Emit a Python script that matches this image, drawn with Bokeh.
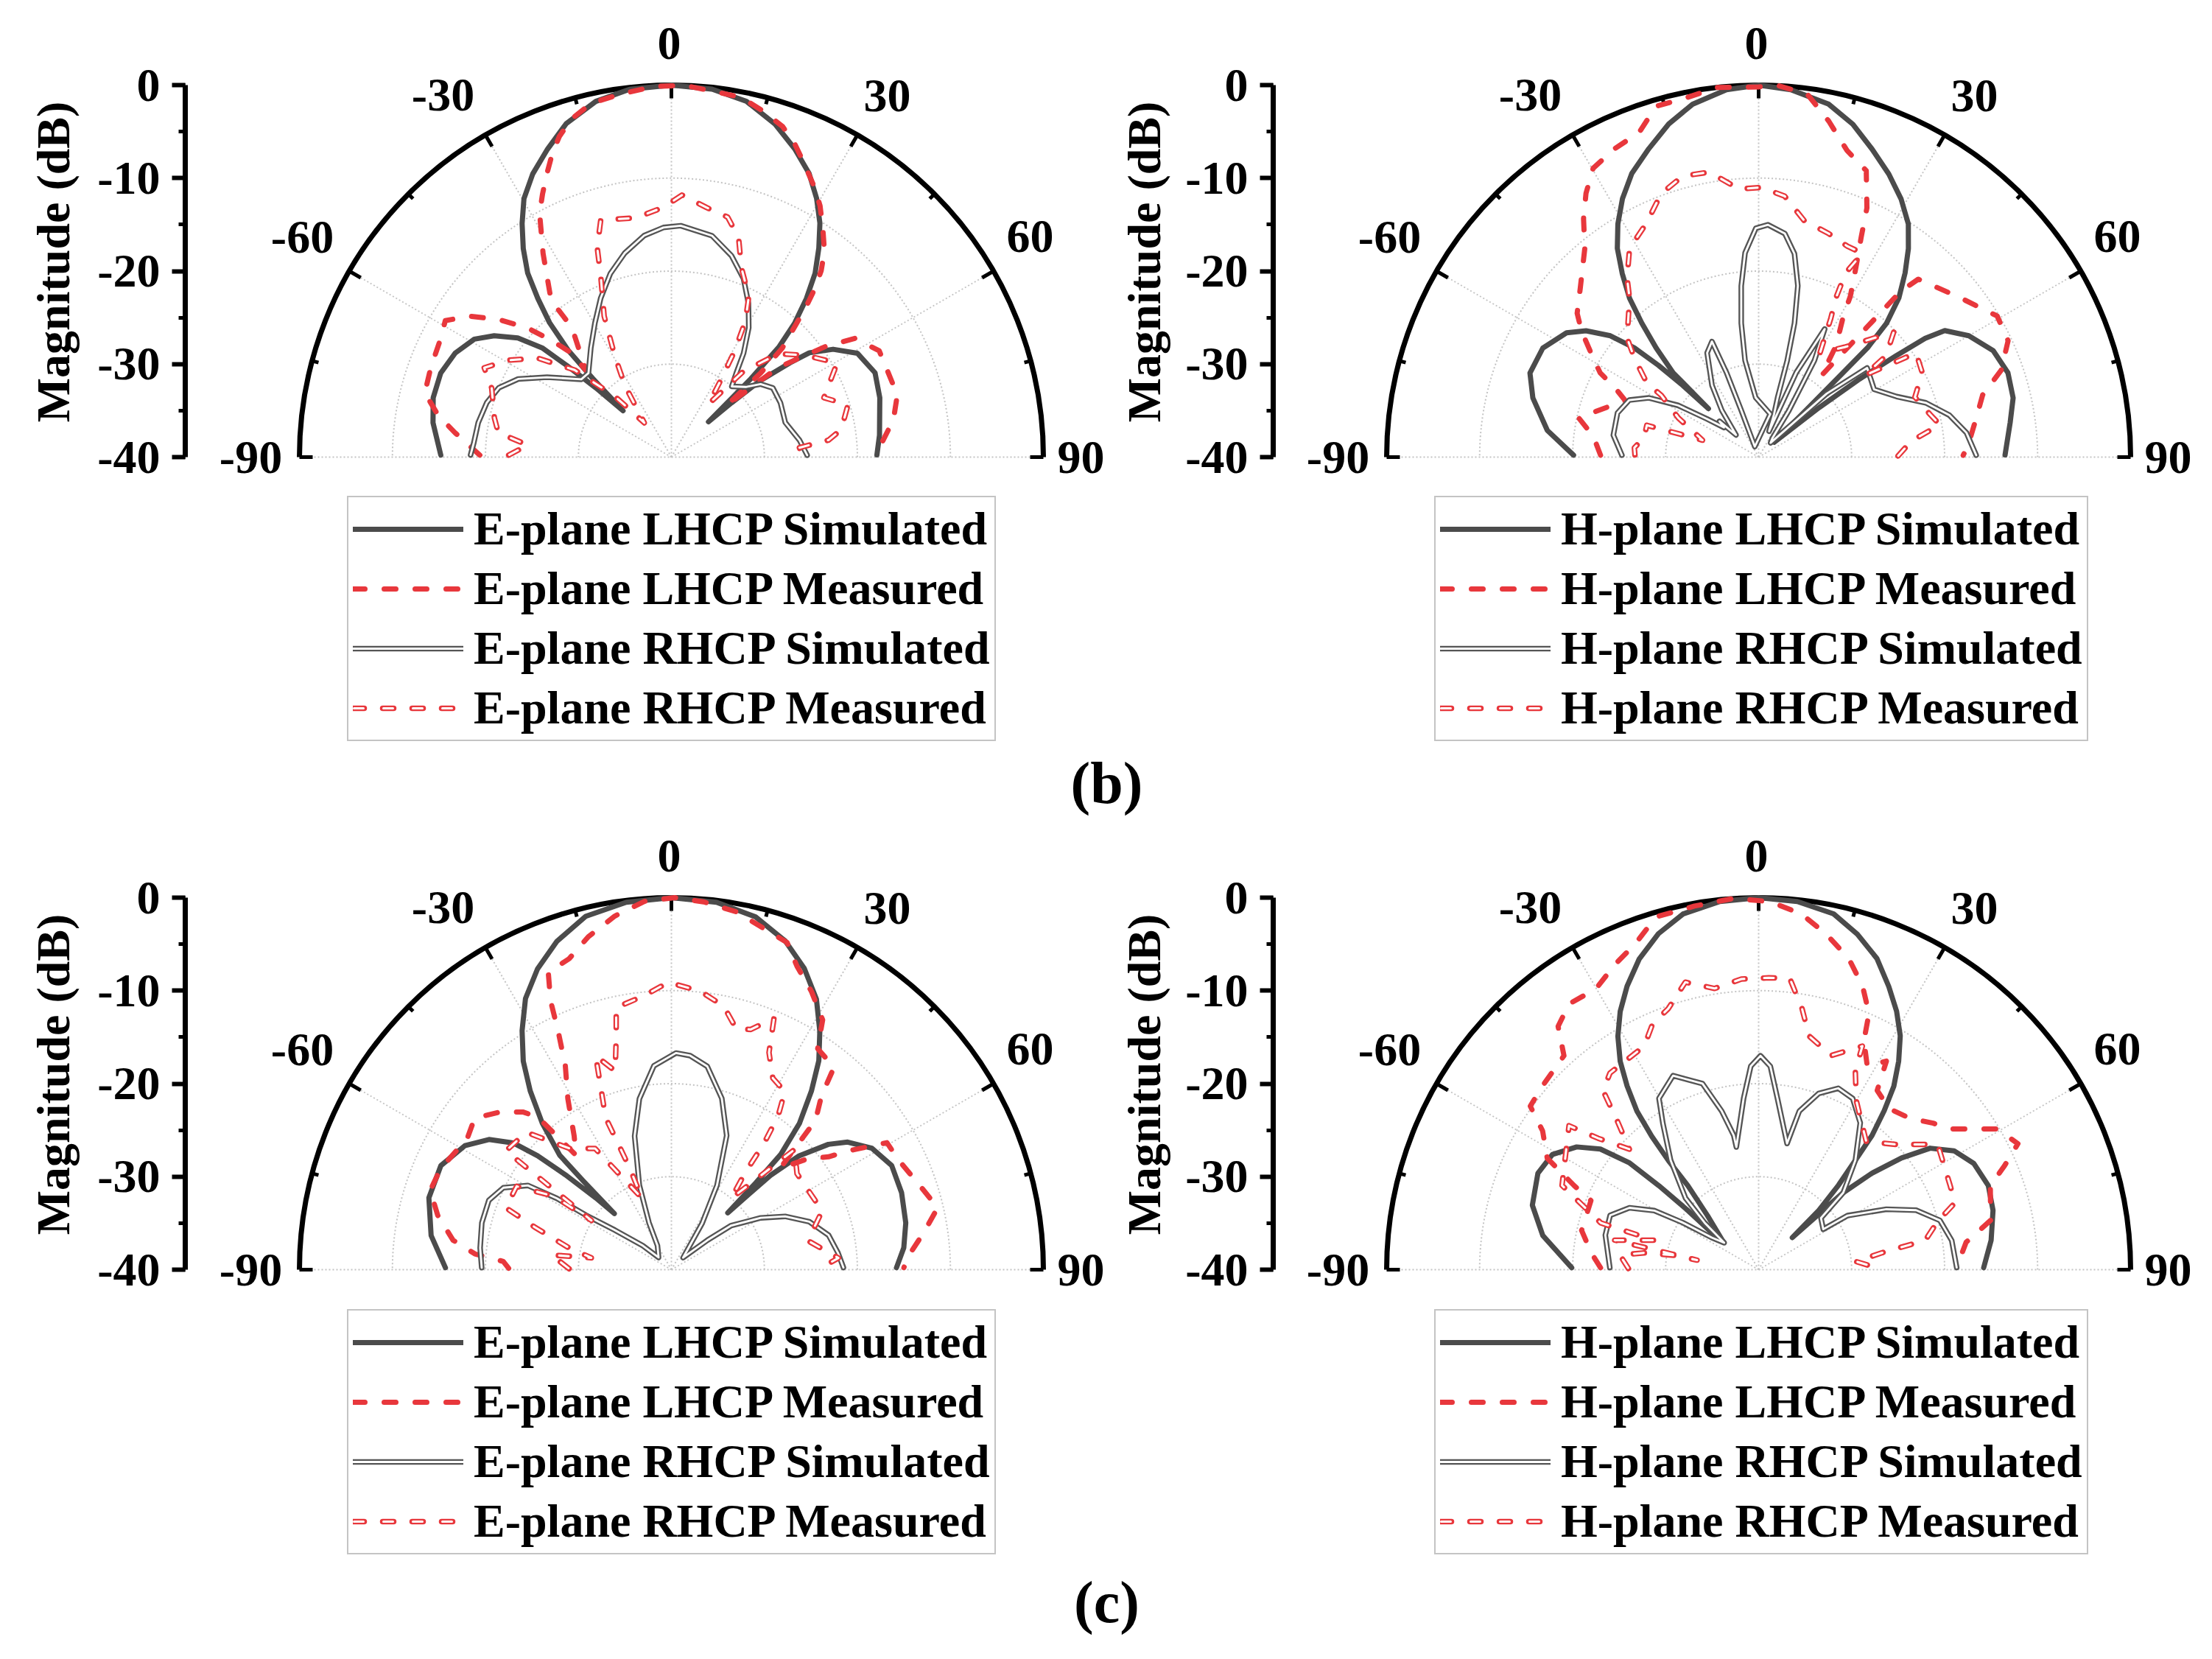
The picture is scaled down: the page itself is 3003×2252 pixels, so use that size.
import numpy as np
from bokeh.plotting import figure
from bokeh.models import Range1d, SingleIntervalTicker, Legend, LegendItem, PrintfTickFormatter
from bokeh.layouts import column, row
from bokeh.embed import file_html
from bokeh.resources import INLINE
from bokeh.core.properties import value

FONT = "Liberation Serif"
GRAY = "#4b4b4b"
GRAY2 = "#555555"
RED = "#e8373c"
GRID = "#c4c4c4"

# ---------------- data: (angle in degrees, magnitude in dB) ----------------
# (b) E-plane
bE_lhcp_sim = [(-89.5, -15.2), (-81.8, -14.1), (-76.0, -13.6), (-70.0, -13.6), (-64.3, -14.2), (-59.1, -15.3),
               (-55.6, -16.9), (-52.2, -19.1), (-49.8, -21.8), (-48.8, -25.0), (-47.5, -29.0), (-46.2, -32.8),
               (-45.0, -28.0), (-44.0, -24.0), (-42.2, -20.5), (-40.1, -17.7), (-38.0, -14.9), (-35.4, -12.5),
               (-32.6, -10.2), (-29.7, -8.0), (-26.1, -6.1), (-21.9, -4.3), (-17.5, -2.4), (-12.0, -0.9),
               (-6.5, -0.2), (0.0, 0.0), (6.3, -0.2), (11.9, -0.9), (17.3, -2.5), (21.8, -4.3), (25.9, -6.1),
               (29.3, -8.1), (32.4, -10.2), (35.2, -12.5), (38.0, -14.9), (40.4, -17.6), (42.6, -20.4),
               (44.3, -23.4), (45.4, -28.0), (46.4, -34.5), (47.9, -31.3), (49.3, -27.4), (51.5, -23.7),
               (52.9, -21.4), (56.3, -19.1), (60.8, -17.1), (67.5, -16.3), (74.1, -16.7), (84.0, -17.5),
               (89.4, -17.9)]
bE_lhcp_meas = [(-89.4, -19.4), (-83.6, -16.6), (-79.8, -14.5), (-75.4, -12.6), (-69.7, -12.4), (-62.7, -12.1),
                (-58.9, -11.6), (-55.1, -13.5), (-51.4, -16.3), (-48.1, -19.2), (-45.7, -22.1), (-43.8, -24.5),
                (-44.6, -26.9), (-38.2, -23.0), (-37.5, -21.5), (-37.5, -19.8), (-36.6, -18.1), (-34.2, -16.1),
                (-32.2, -14.1), (-30.2, -12.2), (-28.4, -10.2), (-26.1, -8.5), (-23.7, -6.7), (-21.5, -5.0),
                (-19.3, -3.5), (-16.5, -2.1), (-12.8, -1.0), (-8.1, -0.6), (-2.7, -0.1), (2.0, 0.0), (6.4, -0.4),
                (11.0, -0.6), (14.8, -1.5), (18.6, -2.5), (21.5, -3.8), (24.4, -5.4), (27.8, -7.1), (30.6, -8.6),
                (33.5, -10.5), (36.6, -12.4), (38.8, -14.3), (40.4, -16.2), (41.8, -18.2), (43.1, -20.3),
                (45.5, -23.3), (46.7, -26.8), (46.9, -31.9), (50.0, -25.0), (54.4, -19.5), (57.1, -16.5),
                (62.9, -14.9), (74.6, -14.8), (80.5, -15.8), (89.2, -18.0)]
bE_rhcp_sim = [(-89.4, -18.4), (-85.8, -18.7), (-79.9, -18.9), (-73.6, -19.3), (-68.1, -20.0), (-63.0, -21.5),
               (-57.3, -24.1), (-49.2, -27.2), (-44.6, -27.3), (-36.4, -25.4), (-29.7, -23.4), (-24.0, -21.3),
               (-18.4, -19.2), (-12.9, -17.5), (-7.0, -16.0), (-2.0, -15.3), (2.3, -15.1), (10.4, -15.8),
               (16.6, -17.4), (22.0, -19.3), (26.6, -21.5), (30.9, -23.8), (34.8, -26.4), (37.7, -28.6),
               (40.5, -30.0), (46.7, -29.0), (50.7, -27.6), (55.7, -26.8), (63.5, -26.9), (73.1, -27.2),
               (82.5, -26.1), (89.2, -25.4)]
bE_rhcp_meas = [(-89.3, -22.5), (-85.2, -24.5), (-82.0, -21.2), (-77.5, -20.5), (-69.0, -19.3), (-64.5, -17.7),
                (-59.3, -19.6), (-53.5, -22.1), (-48.0, -26.0), (-43.0, -31.0), (-38.3, -35.3), (-33.0, -30.8),
                (-29.2, -27.5), (-25.5, -23.2), (-21.4, -19.2), (-19.5, -16.1), (-16.6, -13.4), (-8.4, -14.0),
                (-1.7, -13.1), (2.3, -11.8), (8.0, -12.9), (13.2, -13.5), (17.0, -15.3), (20.3, -18.3),
                (25.7, -20.8), (28.6, -23.4), (30.8, -26.7), (32.7, -30.2), (35.0, -33.0), (40.0, -28.0),
                (46.0, -24.0), (52.8, -21.9), (60.4, -19.5), (68.7, -22.4), (73.5, -20.2), (80.8, -21.5),
                (83.8, -23.0), (85.8, -26.2), (89.5, -26.0)]

# (b) H-plane
bH_lhcp_sim = [(-89.4, -20.1), (-82.8, -17.1), (-75.3, -14.9), (-69.8, -13.8), (-63.2, -14.0), (-57.1, -15.4),
               (-53.8, -17.0), (-50.7, -19.4), (-48.7, -22.2), (-47.5, -25.4), (-46.6, -28.8), (-46.0, -32.5),
               (-45.4, -27.1), (-43.2, -23.9), (-41.1, -20.9), (-39.1, -18.0), (-36.6, -15.4), (-34.1, -12.9),
               (-31.1, -10.7), (-27.8, -8.6), (-24.1, -6.6), (-19.6, -4.8), (-15.1, -2.9), (-10.6, -1.4),
               (-5.0, -0.35), (0.0, 0.0), (5.0, -0.35), (11.2, -1.3), (15.8, -2.8), (20.2, -4.7), (24.7, -6.5),
               (28.9, -8.3), (32.7, -10.2), (35.7, -12.4), (38.5, -14.7), (41.4, -17.2), (43.7, -20.1),
               (44.9, -23.4), (45.0, -27.2), (45.2, -32.2), (46.1, -37.7), (50.7, -31.6), (52.2, -26.5),
               (53.6, -21.6), (54.5, -18.0), (55.8, -15.8), (60.0, -13.9), (65.6, -12.3), (71.3, -11.7),
               (76.9, -11.9), (82.2, -12.7), (89.5, -13.5)]
bH_lhcp_meas = [(-89.3, -23.0), (-82.9, -22.1), (-77.7, -20.2), (-67.0, -24.4), (-64.3, -22.9), (-62.0, -20.7),
                (-58.2, -18.8), (-54.5, -16.6), (-51.6, -15.1), (-46.6, -13.6), (-39.8, -10.8), (-36.3, -8.2),
                (-33.2, -6.1), (-29.8, -4.2), (-25.0, -3.4), (-20.2, -2.8), (-16.3, -0.7), (-11.5, -0.6),
                (-6.4, 0.0), (0.0, -0.2), (3.0, 0.0), (7.6, -0.6), (11.8, -3.1), (16.1, -5.7), (20.6, -7.1),
                (23.5, -10.8), (25.0, -13.9), (27.1, -17.0), (29.7, -20.1), (31.0, -22.3), (34.8, -25.4),
                (37.6, -28.9), (40.6, -16.5), (41.9, -14.3), (51.1, -12.5), (59.4, -10.2), (65.0, -10.4),
                (70.3, -12.3), (74.5, -15.0), (80.2, -16.3), (86.5, -17.4), (89.5, -18.0)]
bH_rhcp_sim = [(-89.2, -25.3), (-81.4, -24.2), (-72.6, -24.1), (-66.2, -24.8), (-61.6, -26.6), (-57.3, -29.7),
               (-53.5, -33.1), (-49.5, -35.1), (-47.5, -34.3), (-45.6, -36.6), (-38.2, -33.6), (-33.0, -30.8),
               (-26.3, -27.5), (-22.0, -26.6), (-20.8, -30.3), (-20.4, -34.6), (-20.0, -38.8), (15.1, -35.2),
               (-2.8, -33.6), (-8.0, -29.5), (-7.4, -25.5), (-5.8, -21.5), (-3.8, -18.0), (-0.7, -15.4),
               (2.3, -15.0), (6.7, -15.8), (10.0, -17.8), (12.9, -21.1), (15.0, -25.1), (16.5, -29.2),
               (17.7, -33.3), (19.8, -35.1), (22.0, -37.0), (24.0, -30.0), (27.3, -24.5), (30.0, -28.0),
               (33.0, -34.0), (36.0, -37.5), (40.0, -38.0), (47.0, -30.0), (50.6, -24.9), (59.6, -25.6),
               (66.3, -23.8), (72.0, -21.1), (77.6, -19.0), (83.3, -17.5), (89.5, -16.6)]
bH_rhcp_meas = [(-89.0, -26.7), (-85.7, -26.6), (-80.4, -27.5), (-74.1, -27.5), (-73.2, -33.7), (-64.0, -30.4),
                (-57.6, -27.6), (-56.5, -25.6), (-51.4, -22.9), (-47.8, -20.9), (-39.1, -18.0), (-36.3, -16.1),
                (-31.7, -13.6), (-25.6, -12.1), (-22.9, -11.0), (-20.3, -9.8), (-15.1, -8.7), (-9.8, -8.9),
                (-4.2, -11.1), (0.6, -11.0), (5.7, -11.8), (10.9, -14.1), (17.3, -14.8), (22.9, -15.4),
                (27.0, -15.4), (25.3, -18.1), (25.9, -21.0), (27.5, -23.2), (30.5, -27.0), (38.0, -25.0),
                (47.2, -20.2), (51.5, -22.5), (52.4, -25.6), (56.5, -19.7), (62.7, -20.2), (69.0, -22.0),
                (76.0, -21.0), (79.9, -20.2), (84.0, -23.5), (89.5, -25.0)]

# (c) E-plane
cE_lhcp_sim = [(-89.5, -15.7), (-81.9, -13.9), (-73.5, -12.8), (-65.7, -12.8), (-59.0, -14.1), (-54.5, -15.9),
               (-51.3, -18.2), (-49.6, -21.1), (-48.1, -24.9), (-46.5, -28.8), (-45.5, -31.4), (-44.8, -26.5),
               (-44.3, -22.8), (-41.4, -19.0), (-38.3, -15.5), (-35.4, -12.5), (-32.0, -9.7), (-28.3, -6.9),
               (-24.0, -4.6), (-19.2, -2.6), (-13.6, -0.9), (-7.0, -0.2), (0.0, 0.0), (7.0, -0.2), (13.4, -1.0),
               (19.1, -2.6), (23.8, -4.6), (28.2, -7.0), (31.9, -9.8), (35.2, -12.5), (38.1, -15.6),
               (41.2, -19.1), (43.5, -22.9), (44.2, -27.0), (44.8, -31.4), (45.7, -28.5), (46.4, -25.3),
               (48.3, -21.6), (51.4, -18.4), (54.1, -16.6), (58.8, -14.8), (64.7, -13.8), (71.5, -13.9),
               (78.7, -14.3), (84.6, -14.9), (89.5, -15.8)]
cE_lhcp_meas = [(-89.5, -22.5), (-87.2, -21.9), (-85.4, -18.8), (-82.3, -16.3), (-76.9, -14.2), (-71.8, -12.7),
                (-66.5, -12.9), (-57.2, -13.9), (-52.4, -13.3), (-47.6, -14.9), (-43.3, -16.7), (-41.2, -18.2),
                (-39.8, -24.0), (-36.0, -22.2), (-31.2, -18.5), (-27.5, -15.3), (-25.4, -11.6), (-24.2, -8.3),
                (-22.5, -5.4), (-18.2, -4.8), (-14.0, -3.1), (-9.1, -1.5), (-4.2, -0.3), (0.5, 0.0), (5.0, -0.3),
                (10.3, -0.9), (19.5, -2.7), (22.5, -4.7), (26.7, -6.5), (31.2, -8.6), (33.5, -11.5),
                (38.8, -12.1), (40.8, -15.3), (44.0, -17.7), (47.0, -24.0), (51.0, -21.0), (54.3, -19.2),
                (56.6, -16.6), (59.5, -13.1), (64.0, -12.9), (71.3, -11.8), (76.9, -10.6), (81.7, -12.6),
                (86.5, -14.4), (89.5, -15.0)]
cE_rhcp_sim = [(-89.4, -19.6), (-83.5, -19.3), (-76.1, -19.0), (-69.2, -19.0), (-64.0, -19.9), (-59.6, -22.1),
               (-58.1, -25.5), (-57.5, -29.1), (-55.0, -32.6), (-50.0, -36.0), (-46.5, -38.1), (-30.0, -37.0),
               (-25.5, -34.4), (-20.8, -30.3), (-15.4, -25.1), (-10.6, -21.3), (-4.9, -18.0), (1.2, -16.7),
               (5.0, -16.9), (10.0, -17.8), (16.4, -20.8), (22.4, -24.4), (28.4, -29.7), (33.5, -34.0),
               (44.3, -38.2), (50.7, -35.0), (53.6, -32.0), (59.9, -28.9), (64.9, -26.5), (70.8, -24.3),
               (77.6, -22.7), (84.2, -22.0), (89.3, -21.5)]
cE_rhcp_meas = [(-89.5, -29.0), (-83.0, -27.0), (-81.6, -31.3), (-77.9, -28.7), (-72.7, -24.6), (-69.5, -21.0),
                (-61.7, -21.1), (-58.0, -25.1), (-58.4, -29.9), (-54.3, -18.1), (-46.6, -18.5), (-40.0, -23.0),
                (-32.2, -24.6), (-22.4, -31.7), (-22.3, -28.2), (-23.4, -22.2), (-19.5, -15.6), (-15.8, -17.8),
                (-13.3, -14.2), (-11.9, -11.2), (-5.7, -10.4), (-0.6, -9.1), (5.9, -9.9), (11.2, -11.1),
                (15.1, -13.2), (18.3, -12.8), (22.2, -10.8), (24.2, -14.4), (27.9, -16.7), (32.5, -17.3),
                (34.8, -19.9), (36.3, -23.3), (37.2, -26.8), (40.0, -30.0), (45.7, -21.5), (52.6, -23.0),
                (68.7, -22.6), (78.0, -25.0), (86.0, -22.0), (89.5, -24.0)]

# (c) H-plane
cH_lhcp_sim = [(-89.4, -19.9), (-81.0, -16.5), (-74.1, -14.7), (-66.4, -14.1), (-60.8, -14.6), (-56.0, -16.4),
               (-52.7, -18.6), (-50.4, -22.0), (-49.9, -26.0), (-50.1, -30.1), (-51.7, -33.6), (-51.5, -35.1),
               (-43.4, -32.0), (-40.1, -28.2), (-39.6, -24.8), (-38.7, -21.6), (-37.5, -18.5), (-35.6, -15.7),
               (-33.6, -13.1), (-31.1, -10.7), (-28.2, -8.5), (-24.9, -6.4), (-21.0, -4.2), (-16.6, -2.3),
               (-12.0, -0.9), (-6.0, -0.2), (0.0, 0.0), (6.0, -0.2), (11.9, -0.9), (16.4, -2.4), (20.8, -4.2),
               (24.7, -6.5), (28.1, -8.5), (31.2, -10.6), (33.9, -13.0), (36.4, -15.5), (38.3, -18.2),
               (40.2, -21.1), (41.5, -24.3), (43.4, -27.5), (45.4, -30.9), (46.4, -35.0), (47.7, -27.7),
               (49.6, -24.0), (52.0, -20.5), (54.7, -17.4), (58.7, -15.4), (63.7, -14.2), (69.9, -13.7),
               (75.8, -14.0), (82.8, -14.8), (89.5, -15.8)]
cH_lhcp_meas = [(-89.3, -23.0), (-84.2, -21.9), (-77.5, -20.5), (-67.6, -20.5), (-65.5, -18.2), (-62.2, -14.3),
                (-57.3, -12.4), (-54.4, -9.8), (-49.6, -9.5), (-42.3, -8.9), (-39.5, -6.1), (-35.5, -4.9),
                (-30.1, -5.1), (-25.1, -3.7), (-20.9, -2.6), (-16.2, -0.5), (-10.0, -0.3), (-4.0, 0.0),
                (1.8, -0.4), (6.9, -1.5), (11.4, -3.2), (16.2, -5.2), (20.1, -7.5), (23.3, -10.0), (24.7, -12.9),
                (28.1, -15.2), (31.5, -13.7), (33.5, -16.9), (39.0, -17.7), (45.0, -17.0), (50.0, -15.5),
                (53.8, -14.4), (59.5, -10.2), (64.1, -9.0), (67.1, -11.3), (70.1, -13.5), (78.0, -14.5),
                (82.5, -17.5), (88.6, -18.6)]
cH_rhcp_sim = [(-89.2, -24.0), (-77.3, -23.1), (-69.9, -23.0), (-64.4, -24.6), (-60.5, -27.1), (-58.2, -30.4),
               (-55.6, -33.9), (-52.0, -35.3), (-49.0, -32.3), (-45.6, -29.0), (-38.8, -24.9), (-33.2, -21.2),
               (-30.2, -18.7), (-23.8, -17.2), (-16.8, -19.1), (-13.1, -22.5), (-10.5, -25.3), (-10.3, -26.6),
               (-5.0, -21.5), (-2.2, -18.1), (0.5, -17.0), (3.3, -18.1), (6.3, -21.5), (12.7, -26.1),
               (14.4, -22.4), (18.8, -20.0), (23.7, -18.7), (28.8, -19.0), (34.7, -20.8), (41.5, -24.3),
               (47.7, -27.7), (50.4, -31.3), (58.0, -31.8), (58.7, -28.8), (64.7, -24.8), (69.3, -21.9),
               (74.8, -19.8), (81.4, -19.0), (89.4, -18.7)]
cH_rhcp_meas = [(-89.5, -26.0), (-84.0, -25.0), (-81.6, -27.6), (-80.4, -30.7), (-81.2, -33.3), (-78.4, -24.2),
                (-74.3, -28.3), (-73.5, -22.3), (-66.8, -17.0), (-52.8, -14.4), (-50.7, -17.7), (-47.0, -21.0),
                (-43.5, -17.9), (-41.0, -14.5), (-37.1, -13.5), (-27.1, -13.0), (-23.3, -11.2), (-19.1, -10.3),
                (-14.3, -8.1), (-8.9, -9.4), (-3.4, -8.7), (2.0, -8.6), (6.1, -8.5), (9.4, -11.5), (12.2, -14.3),
                (18.7, -15.7), (24.9, -13.5), (25.9, -16.2), (30.0, -19.0), (40.0, -22.0), (48.0, -19.9),
                (55.0, -16.5), (66.2, -17.5), (71.2, -17.7), (75.0, -20.1), (80.0, -21.8), (82.2, -26.6),
                (85.2, -29.5), (89.5, -27.0)]

ANGLE_TICKS = [-90, -60, -30, 0, 30, 60, 90]
DB_MIN, DB_MAX = -40, 0
Y_LABEL = "Magnitude (dB)"
LEGEND_SUFFIX = ["LHCP Simulated", "LHCP Measured", "RHCP Simulated", "RHCP Measured"]

# ---------------- geometry / styling (pixels) ----------------
PX = 505.0 / 40.0          # pixels per dB of radius
FS = "64px"
# centre of each angle label, px from the pole (x right, y up)
LABEL_OFFSET = {-90: (-571, 0), -60: (-501, 299), -30: (-310, 492), 0: (-3, 562),
                30: (293, 491), 60: (487, 300), 90: (556, 0)}


def polar_xy(pairs):
    ang = np.radians([a for a, _ in pairs])
    r = np.clip(np.array([d for _, d in pairs], float) - DB_MIN, 0, None)
    return r * np.sin(ang), r * np.cos(ang) + DB_MIN


def blank(width, height):
    f = figure(width=width, height=height, x_range=Range1d(0, width), y_range=Range1d(0, height),
               output_backend="svg", toolbar_location=None, x_axis_location=None, y_axis_location=None,
               min_border=0)
    f.outline_line_color = None
    f.xgrid.visible = False
    f.ygrid.visible = False
    return f


def ylabel_fig(width, height, cx, cy_from_top):
    f = blank(width, height)
    f.text(x=[cx], y=[height - cy_from_top], text=[Y_LABEL], angle=np.pi / 2, text_font=value(FONT),
           text_font_style="bold", text_font_size=FS, text_align="center", text_baseline="middle",
           text_color="black")
    return f


def make_panel(plane, data, fig_w, border_l, cx, height, base, leg_xy):
    lhcp_sim, lhcp_meas, rhcp_sim, rhcp_meas = data
    fw = fig_w - border_l
    xr = Range1d(-cx / PX, (fw - cx) / PX)
    yr = Range1d(DB_MIN - (height - base) / PX, DB_MIN + base / PX)
    p = figure(width=fig_w, height=height, x_range=xr, y_range=yr, output_backend="svg",
               toolbar_location=None, x_axis_location=None, y_axis_location="left",
               min_border_left=border_l, min_border_right=0, min_border_top=0, min_border_bottom=0)
    p.outline_line_color = None
    p.xgrid.visible = False
    p.ygrid.visible = False

    ax = p.yaxis[0]
    ax.bounds = (DB_MIN, DB_MAX)
    ax.ticker = SingleIntervalTicker(interval=10, num_minor_ticks=2)
    ax.formatter = PrintfTickFormatter(format="%d")
    ax.axis_line_width = 7
    ax.axis_line_color = "black"
    ax.major_tick_line_width = 6
    ax.minor_tick_line_width = 5
    ax.major_tick_out = 18
    ax.major_tick_in = 0
    ax.minor_tick_out = 9
    ax.minor_tick_in = 0
    ax.major_label_text_font = FONT
    ax.major_label_text_font_style = "bold"
    ax.major_label_text_font_size = FS
    ax.major_label_text_color = "black"
    ax.major_label_standoff = 16

    R = DB_MAX - DB_MIN
    for rr in (10, 20, 30):
        p.arc(x=0, y=DB_MIN, radius=rr, start_angle=0, end_angle=np.pi,
              line_color=GRID, line_width=2, line_dash="2 3")
    sp = np.radians([-60, -30, 0, 30, 60])
    p.segment(x0=np.zeros(5), y0=np.full(5, DB_MIN), x1=R * np.sin(sp), y1=R * np.cos(sp) + DB_MIN,
              line_color=GRID, line_width=2, line_dash="2 3")
    p.segment(x0=[-R], y0=[DB_MIN], x1=[R], y1=[DB_MIN], line_color=GRID, line_width=2, line_dash="2 3")

    p.arc(x=0, y=DB_MIN, radius=R, start_angle=0, end_angle=np.pi, line_color="black", line_width=7)
    ta = np.arange(-90, 91, 15)
    tl = np.where(ta % 30 == 0, 18 / PX, 9 / PX)
    tr = np.radians(ta)
    p.segment(x0=R * np.sin(tr), y0=R * np.cos(tr) + DB_MIN,
              x1=(R - tl) * np.sin(tr), y1=(R - tl) * np.cos(tr) + DB_MIN,
              line_color="black", line_width=5)

    lx = [LABEL_OFFSET[a][0] / PX for a in ANGLE_TICKS]
    ly = [LABEL_OFFSET[a][1] / PX + DB_MIN for a in ANGLE_TICKS]
    p.text(x=lx, y=ly, text=[str(a) for a in ANGLE_TICKS], text_font=value(FONT), text_font_style="bold",
           text_font_size=FS, text_align="center", text_baseline="middle", text_color="black")

    x, y = polar_xy(lhcp_sim)
    r1 = p.line(x, y, line_color=GRAY, line_width=7, line_join="round", line_cap="round")
    x, y = polar_xy(lhcp_meas)
    r2 = p.line(x, y, line_color=RED, line_width=7, line_dash="16 26", line_join="round", line_cap="round")
    x, y = polar_xy(rhcp_sim)
    r3a = p.line(x, y, line_color=GRAY2, line_width=7.5, line_join="round", line_cap="round")
    r3b = p.line(x, y, line_color="white", line_width=2.8, line_join="round", line_cap="round")
    x, y = polar_xy(rhcp_meas)
    r4a = p.line(x, y, line_color=RED, line_width=7.5, line_dash="15 25", line_join="round", line_cap="round")
    r4b = p.line(x, y, line_color="white", line_width=3.0, line_dash="13 27", line_dash_offset=-1,
                 line_join="round", line_cap="round")

    items = [LegendItem(label=f"{plane} {LEGEND_SUFFIX[0]}", renderers=[r1]),
             LegendItem(label=f"{plane} {LEGEND_SUFFIX[1]}", renderers=[r2]),
             LegendItem(label=f"{plane} {LEGEND_SUFFIX[2]}", renderers=[r3a, r3b]),
             LegendItem(label=f"{plane} {LEGEND_SUFFIX[3]}", renderers=[r4a, r4b])]
    leg = Legend(items=items, location=leg_xy)
    leg.label_text_font = FONT
    leg.label_text_font_style = "bold"
    leg.label_text_font_size = "64px"
    leg.label_text_color = "black"
    leg.glyph_width = 150
    leg.glyph_height = 68
    leg.label_height = 68
    leg.label_standoff = 14
    leg.spacing = 7
    leg.padding = 6
    leg.margin = 0
    leg.border_line_color = "#8a8a8a"
    leg.border_line_width = 2
    leg.background_fill_color = "white"
    leg.background_fill_alpha = 1.0
    p.add_layout(leg)
    return p


def caption(txt, height, center_from_top):
    c = blank(2990, height)
    c.text(x=[1502], y=[height - center_from_top], text=[txt], text_font=value(FONT),
           text_font_style="bold", text_font_size="80px", text_align="center",
           text_baseline="middle", text_color="black")
    return c


# page layout (pixels): [y-label | left panel] [y-label | right panel]
LLW, RLW = 110, 90                 # widths of the y-label strips
LW, LB, LCX = 1395, 141, 660       # left panel figure: width, left border, pole x in frame
RW, RB, RCX = 1395, 133, 659       # right panel figure
HB, BASE_B = 1020, 620             # row (b): height, baseline from top
HC, BASE_C = 1000, 598             # row (c)
LABEL_RISE = 265                   # y-label centre above the baseline

rowb = row(ylabel_fig(LLW, HB, 72, BASE_B - LABEL_RISE),
           make_panel("E-plane", (bE_lhcp_sim, bE_lhcp_meas, bE_rhcp_sim, bE_rhcp_meas),
                      LW, LB, LCX, HB, BASE_B, (220, 14)),
           ylabel_fig(RLW, HB, 48, BASE_B - LABEL_RISE),
           make_panel("H-plane", (bH_lhcp_sim, bH_lhcp_meas, bH_rhcp_sim, bH_rhcp_meas),
                      RW, RB, RCX, HB, BASE_B, (219, 14)))
rowc = row(ylabel_fig(LLW, HC, 72, BASE_C - LABEL_RISE),
           make_panel("E-plane", (cE_lhcp_sim, cE_lhcp_meas, cE_rhcp_sim, cE_rhcp_meas),
                      LW, LB, LCX, HC, BASE_C, (220, 15)),
           ylabel_fig(RLW, HC, 48, BASE_C - LABEL_RISE),
           make_panel("H-plane", (cH_lhcp_sim, cH_lhcp_meas, cH_rhcp_sim, cH_rhcp_meas),
                      RW, RB, RCX, HC, BASE_C, (219, 15)))

layout = column(rowb, caption("(b)", 105, 42), rowc, caption("(c)", 125, 49))

open("out.html", "w").write(file_html(layout, INLINE))
